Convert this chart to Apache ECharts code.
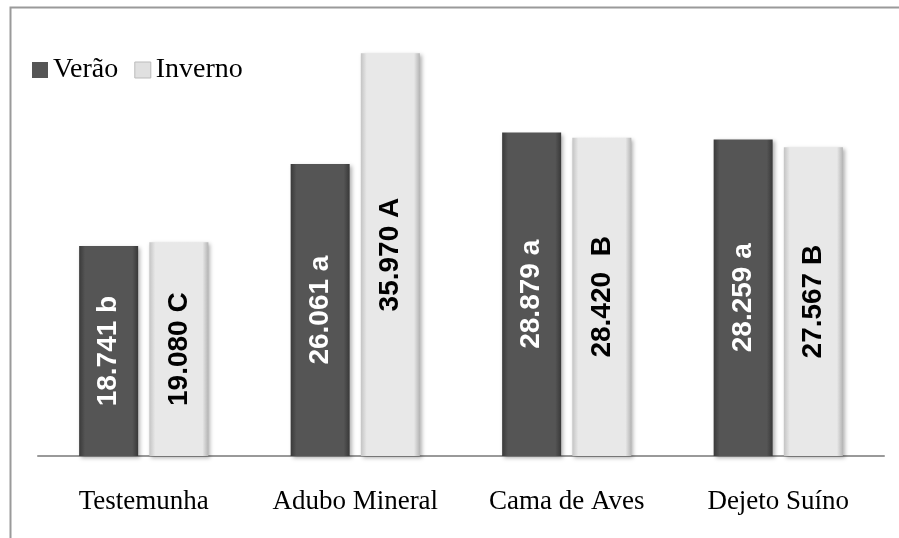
<!DOCTYPE html>
<html>
<head>
<meta charset="utf-8">
<script src="https://cdn.jsdelivr.net/npm/echarts@6/dist/echarts.min.js"></script>
<style>
  html, body { margin: 0; padding: 0; background: #fff; }
  #chart { width: 899px; height: 538px; }
</style>
</head>
<body>
<div id="chart"></div>
<script>
const categorias = ["Testemunha", "Adubo Mineral", "Cama de Aves", "Dejeto Suíno"];
const verao = [18.741, 26.061, 28.879, 28.259];
const inverno = [19.080, 35.970, 28.420, 27.567];
const letrasVerao = ["b", "a", "a", "a"];
const letrasInverno = ["C", "A", " B", "B"];

const chart = echarts.init(document.getElementById("chart"));

const serif = "'Liberation Serif', 'Times New Roman', serif";
const sans = "'Liberation Sans', Arial, sans-serif";

// bevel-like look with a horizontal gradient
const darkFill = new echarts.graphic.LinearGradient(0, 0, 1, 0, [
  { offset: 0, color: "#3a3a3a" },
  { offset: 0.1, color: "#555555" },
  { offset: 0.9, color: "#555555" },
  { offset: 1, color: "#383838" }
]);
const lightFill = new echarts.graphic.LinearGradient(0, 0, 1, 0, [
  { offset: 0, color: "#c4c4c4" },
  { offset: 0.1, color: "#e8e8e8" },
  { offset: 0.9, color: "#e8e8e8" },
  { offset: 1, color: "#b4b4b4" }
]);

const option = {
  animation: false,
  backgroundColor: "#fff",
  graphic: [
    {
      type: "rect",
      shape: { x: 10.5, y: 7.5, width: 1000, height: 1000 },
      style: { fill: "none", stroke: "#9a9a9a", lineWidth: 2 },
      silent: true
    }
  ],
  legend: {
    left: 27,
    top: 51,
    icon: "rect",
    itemWidth: 16,
    itemHeight: 16,
    itemGap: 16,
    textStyle: { fontFamily: serif, fontSize: 28, color: "#000" },
    data: [
      { name: "Verão", itemStyle: { color: "#555555" } },
      { name: "Inverno", itemStyle: { color: "#e0e0e0", borderColor: "#bbb", borderWidth: 1 } }
    ]
  },
  grid: { left: 38, right: 15, top: 8, bottom: 82 },
  xAxis: {
    type: "category",
    data: categorias,
    axisLine: { lineStyle: { color: "#999", width: 2 } },
    axisTick: { show: false },
    axisLabel: {
      interval: 0,
      margin: 32,
      fontFamily: serif,
      fontSize: 27,
      color: "#000"
    }
  },
  yAxis: {
    type: "value",
    min: 0,
    max: 40,
    show: false,
    splitLine: { show: false }
  },
  series: [
    {
      name: "Verão",
      type: "bar",
      data: verao,
      barWidth: 59,
      barGap: "19%",
      itemStyle: {
        color: darkFill,
        shadowColor: "rgba(0,0,0,0.3)",
        shadowBlur: 4,
        shadowOffsetX: 2,
        shadowOffsetY: 2
      },
      label: {
        show: true,
        position: "inside",
        rotate: 90,
        color: "#fff",
        fontFamily: sans,
        fontWeight: "bold",
        fontSize: 28,
        formatter: (p) => p.value.toFixed(3) + " " + letrasVerao[p.dataIndex]
      }
    },
    {
      name: "Inverno",
      type: "bar",
      data: inverno,
      barWidth: 59,
      itemStyle: {
        color: lightFill,
        shadowColor: "rgba(0,0,0,0.3)",
        shadowBlur: 4,
        shadowOffsetX: 2,
        shadowOffsetY: 2
      },
      label: {
        show: true,
        position: "inside",
        rotate: 90,
        color: "#000",
        fontFamily: sans,
        fontWeight: "bold",
        fontSize: 28,
        formatter: (p) => p.value.toFixed(3) + " " + letrasInverno[p.dataIndex]
      }
    }
  ]
};

chart.setOption(option);
</script>
</body>
</html>
